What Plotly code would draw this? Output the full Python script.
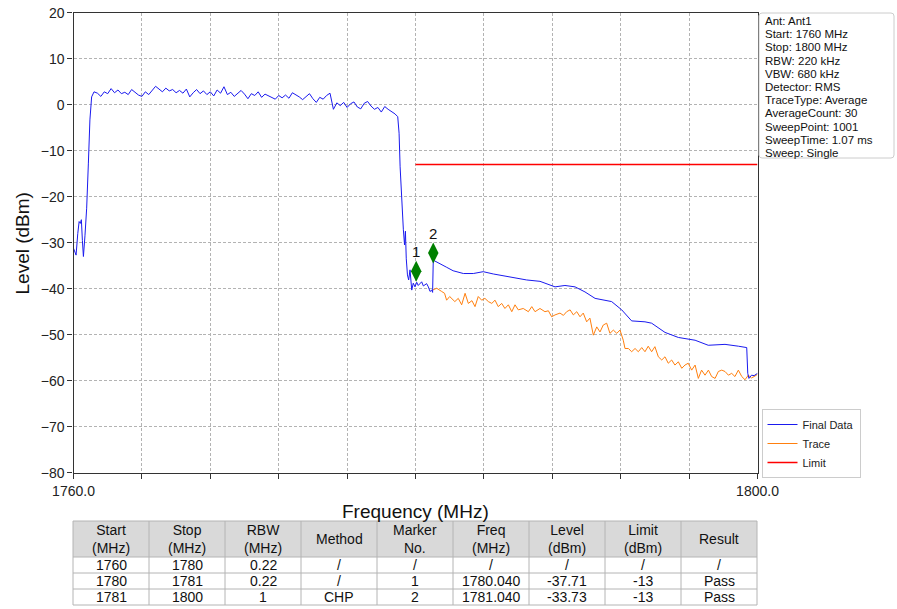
import numpy as np
import plotly.graph_objects as go

# ---------------- data ----------------
band_edge_freq = [1760.0, 1760.08, 1760.15, 1760.25, 1760.33, 1760.4, 1760.46, 1760.52, 1760.58,
                  1760.67, 1760.77, 1760.87, 1760.96, 1761.06]
band_edge_level = [-31.2, -32.2, -32.7, -28.0, -25.4, -25.8, -25.0, -29.5, -33.0,
                   -28.5, -22.5, -12.7, -3.3, 1.7]

passband_freq = list(np.round(np.arange(1761.2, 1778.81, 0.2), 2))
passband_level = [2.8, 2.5, 1.8, 2.8, 2.4, 3.5, 2.6, 3.2, 2.4, 2.7,
                  2.2, 3.3, 2.6, 2.1, 1.8, 2.8, 2.2, 3.0, 4.0, 3.4,
                  2.8, 3.6, 3.0, 3.3, 2.6, 3.1, 2.5, 3.4, 1.7, 2.6,
                  3.3, 2.4, 3.0, 2.2, 2.8, 1.9, 3.2, 2.5, 3.9, 2.2,
                  2.7, 1.8, 2.5, 3.1, 2.3, 1.3, 2.4, 2.0, 2.8, 1.6,
                  2.3, 1.9, 1.5, 1.2, 2.0, 1.5, 2.1, 1.4, 2.6, 2.2,
                  1.7, 1.1, 1.8, 2.4, 1.3, 0.5, 1.6, 1.2, 2.0, 2.5,
                  -1.0, 0.4, -0.2, 0.5, -0.6, 0.2, 0.6, -0.5, -0.9, 0.3,
                  0.7, -0.3, -1.0, -0.6, -1.6, -0.4, -1.0, -1.5, -2.0]

drop_freq = [1778.96, 1779.04, 1779.1, 1779.19, 1779.29, 1779.36, 1779.41, 1779.46, 1779.53,
             1779.6, 1779.68, 1779.78, 1779.87, 1779.97, 1780.07, 1780.16, 1780.26, 1780.36,
             1780.46, 1780.56, 1780.65, 1780.75, 1780.85, 1780.95, 1781.0]
drop_level = [-2.6, -6.2, -13.5, -20.7, -27.2, -30.5, -27.5, -33.5, -37.0,
              -38.1, -35.9, -40.3, -38.8, -39.6, -38.6, -39.3, -38.9, -38.5,
              -39.4, -39.2, -38.9, -39.6, -40.6, -40.3, -40.8]

chp_freq = [1781.04, 1781.43, 1781.8, 1782.2, 1782.8, 1783.38, 1783.96, 1784.55, 1785.13, 1785.72,
            1786.5, 1787.28, 1787.87, 1788.16, 1788.74, 1789.33, 1789.91, 1790.5, 1791.47, 1792.06,
            1792.64, 1793.42, 1793.81, 1794.59, 1795.37, 1796.35, 1797.12, 1798.1, 1798.88, 1799.37,
            1799.43, 1799.5, 1799.65, 1799.8, 1800.0]
chp_level = [-33.8, -34.5, -35.3, -36.1, -36.7, -36.7, -36.3, -36.8, -37.2, -37.7,
             -38.1, -38.4, -39.2, -39.6, -39.3, -39.6, -40.7, -42.1, -42.8, -44.6,
             -47.0, -47.2, -47.5, -49.5, -50.6, -51.2, -52.3, -52.1, -52.5, -52.8,
             -58.4, -59.5, -58.8, -58.9, -58.4]

trace_freq = [1781.0, 1781.24, 1781.53, 1781.7, 1781.82, 1782.0, 1782.3, 1782.5, 1782.7, 1782.9,
              1783.09, 1783.3, 1783.48, 1783.67, 1783.87, 1784.06, 1784.26, 1784.46, 1784.65, 1784.84,
              1785.04, 1785.23, 1785.43, 1785.63, 1785.82, 1786.01, 1786.3, 1786.6, 1786.8, 1786.99,
              1787.28, 1787.57, 1787.77, 1787.96, 1788.16, 1788.45, 1788.65, 1788.84, 1789.04, 1789.23,
              1789.43, 1789.62, 1789.81, 1790.01, 1790.2, 1790.4, 1790.6, 1790.79, 1790.98, 1791.18,
              1791.37, 1791.57, 1791.77, 1791.96, 1792.15, 1792.25, 1792.45, 1792.64, 1792.84, 1793.03,
              1793.23, 1793.42, 1793.61, 1793.81, 1794.0, 1794.2, 1794.4, 1794.59, 1794.78, 1794.98,
              1795.17, 1795.37, 1795.57, 1795.76, 1795.95, 1796.15, 1796.35, 1796.54, 1796.73, 1796.93,
              1797.13, 1797.32, 1797.52, 1797.71, 1797.91, 1798.1, 1798.3, 1798.49, 1798.68, 1798.88,
              1799.08, 1799.27, 1799.46, 1799.65, 1799.85, 1800.0]
trace_level = [-40.3, -39.9, -40.6, -41.0, -42.5, -41.7, -42.8, -42.1, -43.5, -41.0,
               -43.2, -42.6, -43.9, -41.7, -42.5, -42.1, -42.8, -43.2, -42.5, -43.9,
               -43.2, -44.3, -43.5, -45.0, -43.5, -44.6, -44.3, -45.0, -43.9, -45.0,
               -44.3, -45.0, -44.8, -46.1, -45.7, -45.3, -45.8, -45.0, -44.6, -45.7,
               -45.0, -46.1, -45.3, -47.2, -46.4, -50.1, -48.3, -49.4, -47.9, -47.5,
               -49.7, -49.0, -49.7, -49.0, -51.2, -53.0, -53.0, -53.7, -53.0, -53.7,
               -52.8, -53.7, -52.5, -53.7, -52.6, -54.8, -55.5, -54.8, -56.2, -55.5,
               -56.6, -55.9, -57.3, -56.6, -56.2, -57.7, -56.6, -59.5, -57.7, -58.8,
               -57.7, -59.1, -59.5, -58.0, -57.7, -58.0, -58.8, -58.4, -59.1, -57.7,
               -59.1, -59.8, -58.8, -59.4, -59.0, -58.6]

limit_freq = [1780.0, 1800.0]
limit_level = [-13.0, -13.0]

marker_no = ["1", "2"]
marker_freq = [1780.040, 1781.040]
marker_level = [-37.71, -33.73]

x_tick_vals = [1760, 1764, 1768, 1772, 1776, 1780, 1784, 1788, 1792, 1796, 1800]
x_tick_text = ["1760.0", "", "", "", "", "", "", "", "", "", "1800.0"]
y_tick_vals = [-80, -70, -60, -50, -40, -30, -20, -10, 0, 10, 20]

info_lines = ["Ant: Ant1", "Start: 1760 MHz", "Stop: 1800 MHz", "RBW: 220 kHz", "VBW: 680 kHz",
              "Detector: RMS", "TraceType: Average", "AverageCount: 30", "SweepPoint: 1001",
              "SweepTime: 1.07 ms", "Sweep: Single"]

tbl_header = ["Start<br>(MHz)", "Stop<br>(MHz)", "RBW<br>(MHz)", "Method", "Marker<br>No.",
              "Freq<br>(MHz)", "Level<br>(dBm)", "Limit<br>(dBm)", "Result"]
tbl_start = ["1760", "1780", "1781"]
tbl_stop = ["1780", "1781", "1800"]
tbl_rbw = ["0.22", "0.22", "1"]
tbl_method = ["/", "/", "CHP"]
tbl_marker = ["/", "1", "2"]
tbl_freq = ["/", "1780.040", "1781.040"]
tbl_level = ["/", "-37.71", "-33.73"]
tbl_limit = ["/", "-13", "-13"]
tbl_result = ["/", "Pass", "Pass"]

# ---------------- figure ----------------
W, H = 897, 609
def px(x):
    return x / W
def py(y):
    return 1 - y / H

final_freq = band_edge_freq + passband_freq + drop_freq + chp_freq
final_level = band_edge_level + passband_level + drop_level + chp_level

fig = go.Figure()
fig.add_trace(go.Scatter(x=trace_freq, y=trace_level, mode="lines", name="Trace",
                         line=dict(color="#ff7f0e", width=1), legendrank=2))
fig.add_trace(go.Scatter(x=final_freq, y=final_level, mode="lines", name="Final Data",
                         line=dict(color="#1a1aee", width=1), legendrank=1))
fig.add_trace(go.Scatter(x=limit_freq, y=limit_level, mode="lines", name="Limit",
                         line=dict(color="#ff0000", width=1.3), legendrank=3))
marker_offset = 1.5
fig.add_trace(go.Scatter(x=marker_freq, y=[v + marker_offset for v in marker_level],
                         mode="markers+text", text=marker_no, textposition="top center",
                         textfont=dict(size=15, color="#111111"),
                         marker=dict(symbol="diamond-tall", size=15, color="#008000"),
                         showlegend=False, hoverinfo="skip"))

axis_common = dict(showline=True, linecolor="#333333", linewidth=1.3, mirror=True,
                   ticks="outside", ticklen=5, tickwidth=1.2, tickcolor="#333333",
                   showgrid=True, gridcolor="#b3b3b3", gridwidth=0.8, griddash="3px,2px",
                   zeroline=False, automargin=False, ticklabeloverflow="allow",
                   tickfont=dict(size=14, color="#222222"))
fig.update_layout(
    width=W, height=H, margin=dict(l=0, r=0, t=0, b=0, autoexpand=False),
    paper_bgcolor="white", plot_bgcolor="white",
    font=dict(family="Liberation Sans, Arial, sans-serif", color="#222222"),
    xaxis=dict(domain=[px(73.5), px(757.5)], range=[1760, 1800], tickvals=x_tick_vals,
               ticktext=x_tick_text, **axis_common),
    yaxis=dict(domain=[py(472.7), py(12.7)], range=[-80, 20], tickvals=y_tick_vals, **axis_common),
    legend=dict(x=px(761.5), y=py(409), xanchor="left", yanchor="top", bgcolor="white",
                bordercolor="#cccccc", borderwidth=1, font=dict(size=11, color="#222222"),
                itemwidth=30, tracegroupgap=0),
)

# axis titles
fig.add_annotation(x=px(415.5), y=py(511), xref="paper", yref="paper", text="Frequency (MHz)",
                   showarrow=False, font=dict(size=19, color="#111111"), xanchor="center", yanchor="middle")
fig.add_annotation(x=px(22), y=py(243.5), xref="paper", yref="paper", text="Level (dBm)",
                   textangle=-90, showarrow=False, font=dict(size=19, color="#111111"),
                   xanchor="center", yanchor="middle")

# info box
x0, x1, y0, y1 = 759, 894, 13, 158
r = 3
path = (f"M {px(x0 + r)},{py(y0)} L {px(x1 - r)},{py(y0)} Q {px(x1)},{py(y0)} {px(x1)},{py(y0 + r)} "
        f"L {px(x1)},{py(y1 - r)} Q {px(x1)},{py(y1)} {px(x1 - r)},{py(y1)} "
        f"L {px(x0 + r)},{py(y1)} Q {px(x0)},{py(y1)} {px(x0)},{py(y1 - r)} "
        f"L {px(x0)},{py(y0 + r)} Q {px(x0)},{py(y0)} {px(x0 + r)},{py(y0)} Z")
fig.add_shape(type="path", path=path, xref="paper", yref="paper",
              line=dict(color="#cccccc", width=1), fillcolor="white", layer="above")
for i, line in enumerate(info_lines):
    fig.add_annotation(x=px(762.5), y=py(21 + 13.2 * i), xref="paper", yref="paper", text=line,
                       showarrow=False, xanchor="left", yanchor="middle",
                       font=dict(size=11.5, color="#111111"))

# results table (header + 3 rows)
tbl_cols = [tbl_start, tbl_stop, tbl_rbw, tbl_method, tbl_marker, tbl_freq, tbl_level,
            tbl_limit, tbl_result]
tb_left, tb_right = 73, 757
row_edges = [521, 557, 573, 589, 605]
ncol = len(tbl_header)
cw = (tb_right - tb_left) / ncol
tfont = dict(size=14, color="#111111",
             family="Liberation Sans Narrow, Arial Narrow, Liberation Sans, Arial")
line_col = "#b4b4b4"
fig.add_shape(type="rect", xref="paper", yref="paper", x0=px(tb_left), x1=px(tb_right),
              y0=py(row_edges[1]), y1=py(row_edges[0]), fillcolor="#d9d9d9", line=dict(width=0))
for ye in row_edges:
    fig.add_shape(type="line", xref="paper", yref="paper", x0=px(tb_left), x1=px(tb_right),
                  y0=py(ye), y1=py(ye), line=dict(color=line_col, width=1))
for c in range(ncol + 1):
    xe = tb_left + c * cw
    fig.add_shape(type="line", xref="paper", yref="paper", x0=px(xe), x1=px(xe),
                  y0=py(row_edges[-1]), y1=py(row_edges[0]), line=dict(color=line_col, width=1))
for c in range(ncol):
    xc = tb_left + (c + 0.5) * cw
    fig.add_annotation(x=px(xc), y=py((row_edges[0] + row_edges[1]) / 2), xref="paper", yref="paper",
                       text=tbl_header[c], showarrow=False, xanchor="center", yanchor="middle",
                       font=tfont)
    for rr in range(3):
        yc = (row_edges[rr + 1] + row_edges[rr + 2]) / 2
        fig.add_annotation(x=px(xc), y=py(yc), xref="paper", yref="paper",
                           text=tbl_cols[c][rr], showarrow=False, xanchor="center",
                           yanchor="middle", font=tfont)

# remove the default 8px page margin so the figure fills the window exactly
fig.write_html("out.html", config={"displayModeBar": False},
               post_script="document.body.style.margin='0px';")
